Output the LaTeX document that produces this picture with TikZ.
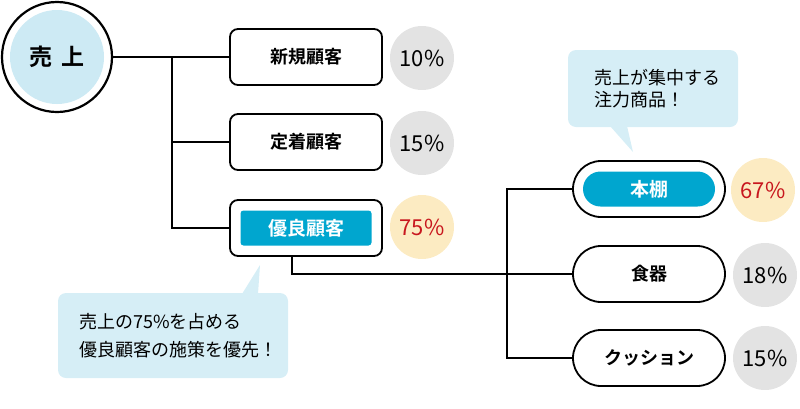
\documentclass[tikz,border=0pt]{standalone}
\usepackage{fontspec}
\usepackage{tikz}
\usetikzlibrary{positioning,calc}

\newfontfamily\jp{Noto Sans CJK JP}[BoldFont=Noto Sans CJK JP Bold]
\definecolor{tipblue}{HTML}{D6EEF6}
\definecolor{rootblue}{HTML}{CDEAF4}
\definecolor{accent}{HTML}{00A6CF}
\definecolor{pctgray}{HTML}{E3E3E3}
\definecolor{pctyellow}{HTML}{FCEBC2}
\definecolor{pctred}{HTML}{C8171E}

\begin{document}
\begin{tikzpicture}[x=1pt,y=-1pt,line width=1.8pt,
  every node/.style={font=\jp},
  seg/.style={draw,rounded corners=8pt,minimum width=152pt,minimum height=56pt,
    font=\jp\bfseries\fontsize{18}{20}\selectfont},
  item/.style={draw,rounded corners=28pt,minimum width=152pt,minimum height=56pt,
    font=\jp\bfseries\fontsize{18}{20}\selectfont},
  pick/.style={fill=accent,text=white,inner sep=0pt,
    font=\jp\bfseries\fontsize{19}{21}\selectfont},
  pct/.style={circle,fill=pctgray,minimum size=64pt,inner sep=0pt,
    font=\jp\fontsize{22}{24}\selectfont},
  hot/.style={pct,fill=pctyellow,text=pctred},
  tip/.style={align=left,anchor=west,font=\jp\fontsize{18}{22}\selectfont}]
  \useasboundingbox (0,0) rectangle (800,408);

  % root
  \node[circle,draw,line width=2.2pt,fill=white,minimum size=110pt] (root) at (57,57) {};
  \fill[rootblue] (root.center) circle (47pt);
  \node[font=\jp\bfseries\fontsize{23}{25}\selectfont] at (root.center) {売\hspace{0.4em}上};

  % customer segments
  \node[seg] (new) at (306,57) {新規顧客};
  \node[seg] (fix) at (306,142) {定着顧客};
  \node[seg] (good) at (306,228) {};
  \node[pick,rounded corners=3pt,minimum width=131pt,minimum height=35pt] at (good.center) {優良顧客};
  \node[pct] (pnew) at (422,58) {10\%};
  \node[pct] (pfix) at (422,143) {15\%};
  \node[hot] (pgood) at (422,227) {75\%};

  % products
  \node[item] (shelf) at (649,189) {};
  \node[pick,rounded corners=17.5pt,minimum width=132pt,minimum height=35pt] at (shelf.center) {本棚};
  \node[item] (dish) at (649,274) {食器};
  \node[item] (cush) at (649,358) {クッション};
  \node[hot] (pshelf) at (763,190) {67\%};
  \node[pct] (pdish) at (765,275) {18\%};
  \node[pct] (pcush) at (765,358) {15\%};

  % tree lines
  \coordinate (trunk) at (172,57);
  \draw (root.east) -- (new.west);
  \draw (trunk) |- (fix.west);
  \draw (trunk) |- (good.west);
  \coordinate (fork) at (507,274);
  \draw ([xshift=-14pt]good.south) |- (dish.west);
  \draw (shelf.west) -| (fork) |- (cush.west);

  % callouts
  \fill[tipblue,rounded corners=8pt] (568,50) rectangle (738,127);
  \fill[tipblue] (610,126) -- (633,152) -- (627,126) -- cycle;
  \node[tip] (tipshelf) at (590,89) {売上が集中する\\注力商品！};
  \fill[tipblue,rounded corners=8pt] (58,293) rectangle (288,378);
  \fill[tipblue] (242,294) -- (260,265) -- (258,294) -- cycle;
  \node[tip,font=\jp\fontsize{18}{28}\selectfont] (tipgood) at (75,336) {売上の75\%を占める\\優良顧客の施策を優先！};
\end{tikzpicture}
\end{document}
